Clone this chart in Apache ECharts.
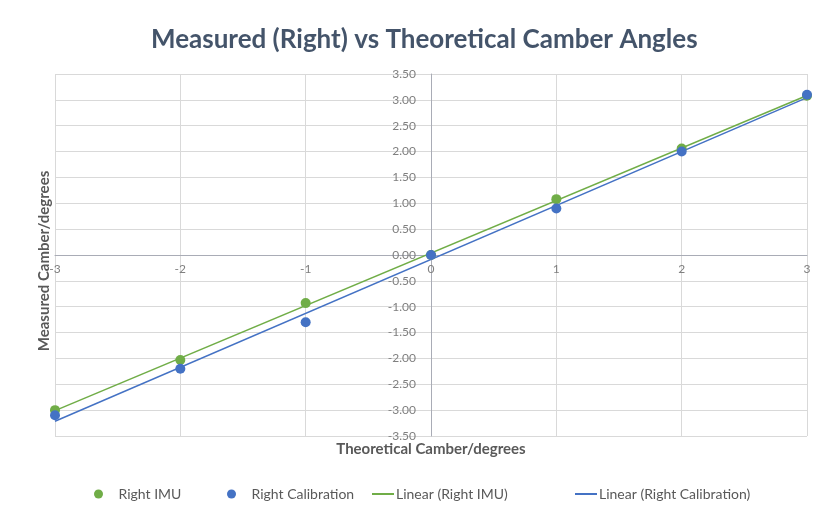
<!DOCTYPE html>
<html>
<head>
<meta charset="utf-8">
<script src="https://cdn.jsdelivr.net/npm/echarts@6/dist/echarts.min.js"></script>
<style>
  html, body { margin: 0; padding: 0; background: #fff; }
  #chart { width: 819px; height: 518px; }
</style>
</head>
<body>
<div id="chart"></div>
<script>
var theoretical = [-3, -2, -1, 0, 1, 2, 3];
var rightImu = [-3.00, -2.03, -0.93, 0.00, 1.08, 2.06, 3.08];
var rightCalibration = [-3.10, -2.20, -1.30, 0.00, 0.90, 2.00, 3.10];
var xTicks = [-3, -2, -1, 0, 1, 2, 3];

var GREEN = "#70ad47";
var BLUE = "#4472c4";
var FONT = "Lato, 'Open Sans', sans-serif";

// plot area, the axes cross in its middle
var GRID = { left: 55, right: 12, top: 74, bottom: 82 };
var plotW = 819 - GRID.left - GRID.right;
var plotH = 518 - GRID.top - GRID.bottom;

function pairs(xs, ys) {
    return xs.map(function (x, i) { return [x, ys[i]]; });
}

// least squares trendline, like Excel's "Linear" trendline
function trend(xs, ys) {
    var n = xs.length, sx = 0, sy = 0, sxy = 0, sxx = 0;
    for (var i = 0; i < n; i++) {
        sx += xs[i]; sy += ys[i]; sxy += xs[i] * ys[i]; sxx += xs[i] * xs[i];
    }
    var b = (n * sxy - sx * sy) / (n * sxx - sx * sx);
    var a = (sy - b * sx) / n;
    var x0 = xTicks[0], x1 = xTicks[xTicks.length - 1];
    return [[x0, a + b * x0], [x1, a + b * x1]];
}

function legendItem(left, name, isLine) {
    var item = { name: name };
    if (isLine) item.itemStyle = { opacity: 0 };
    else item.icon = "circle";
    return {
        left: left, bottom: 12, itemWidth: isLine ? 22 : 10, itemHeight: 9, itemGap: 0,
        textStyle: { fontSize: 14, color: "#595959", fontFamily: FONT, padding: [0, 0, 0, isLine ? -3 : 10] },
        data: [item]
    };
}

var chart = echarts.init(document.getElementById("chart"));
chart.setOption({
    animation: false,
    textStyle: { fontFamily: FONT },
    title: {
        text: "Measured (Right) vs Theoretical Camber Angles",
        left: 146,
        top: 22,
        textStyle: { fontSize: 26, fontWeight: "bold", color: "#44546a", fontFamily: FONT }
    },
    graphic: [
        {
            type: "text", x: 431, y: 449,
            style: { text: "Theoretical Camber/degrees", font: "bold 15px " + FONT, fill: "#595959",
                     align: "center", verticalAlign: "middle" }
        },
        {
            type: "text", x: 44, y: 261, rotation: Math.PI / 2,
            style: { text: "Measured Camber/degrees", font: "bold 15px " + FONT, fill: "#595959",
                     align: "center", verticalAlign: "middle" }
        }
    ],
    legend: [
        legendItem(89, "Right IMU", false),
        legendItem(222, "Right Calibration", false),
        legendItem(366, "Linear (Right IMU)", true),
        legendItem(569, "Linear (Right Calibration)", true)
    ],
    grid: { left: GRID.left, right: GRID.right, top: GRID.top, bottom: GRID.bottom },
    xAxis: {
        type: "value",
        min: -3, max: 3, interval: 1,
        position: "bottom",
        offset: -plotH / 2,
        axisLine: { show: true, onZero: false, lineStyle: { color: "#a9acb6", width: 1 } },
        axisTick: { show: false },
        axisLabel: { color: "#7f7f7f", fontSize: 12, margin: 8 },
        splitLine: { lineStyle: { color: "#d9d9d9" } }
    },
    yAxis: {
        type: "value",
        min: -3.5, max: 3.5, interval: 0.5,
        position: "left",
        offset: -plotW / 2,
        axisLine: { show: true, onZero: false, lineStyle: { color: "#a9acb6", width: 1 } },
        axisTick: { show: false },
        axisLabel: {
            color: "#7f7f7f", fontSize: 12, margin: 15,
            formatter: function (v) { return v.toFixed(2); }
        },
        splitLine: { lineStyle: { color: "#d9d9d9" } }
    },
    series: [
        {
            name: "Linear (Right IMU)", type: "line", symbol: "none",
            data: trend(theoretical, rightImu),
            lineStyle: { color: GREEN, width: 1.5 }, itemStyle: { color: GREEN }, z: 2
        },
        {
            name: "Linear (Right Calibration)", type: "line", symbol: "none",
            data: trend(theoretical, rightCalibration),
            lineStyle: { color: BLUE, width: 1.5 }, itemStyle: { color: BLUE }, z: 2
        },
        {
            name: "Right IMU", type: "scatter", symbolSize: 10,
            data: pairs(theoretical, rightImu),
            itemStyle: { color: GREEN, opacity: 1 }, z: 3
        },
        {
            name: "Right Calibration", type: "scatter", symbolSize: 10,
            data: pairs(theoretical, rightCalibration),
            itemStyle: { color: BLUE, opacity: 1 }, z: 4
        }
    ]
});
</script>
</body>
</html>
